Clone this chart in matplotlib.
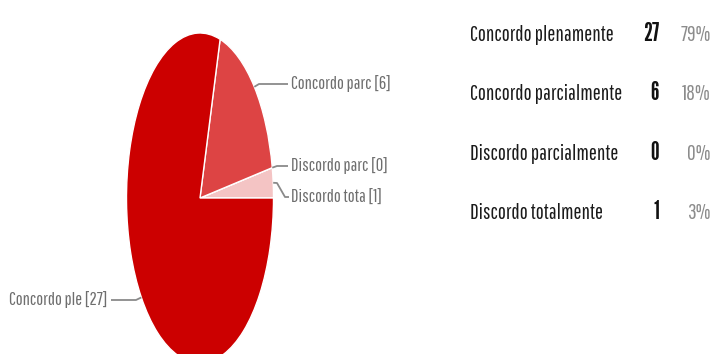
import numpy as np
import matplotlib
matplotlib.use("Agg")
import matplotlib.pyplot as plt

# Survey answers and their counts
categories = ["Concordo plenamente", "Concordo parcialmente", "Discordo parcialmente", "Discordo totalmente"]
short_labels = ["Concordo ple", "Concordo parc", "Discordo parc", "Discordo tota"]
counts = [27, 6, 0, 1]
colors = ["#cc0000", "#dd4444", "#e98a8a", "#f4c4c4"]

W, H = 712, 354
REG = ["Pathway Gothic One", "Liberation Sans"]
BOLD = ["League Gothic", "Liberation Sans"]

fig = plt.figure(figsize=(W / 100, H / 100), dpi=100)

# Pie axes: an elongated ellipse centred at (200, 198) px
cx, cy, rx, ry = 200, 198, 73.5, 165
ax = fig.add_axes([(cx - rx) / W, 1 - (cy + ry) / H, 2 * rx / W, 2 * ry / H])

# slices run counter-clockwise from 3 o'clock, last category first
order = list(range(len(counts)))[::-1]
wedges, _ = ax.pie([counts[i] for i in order], colors=[colors[i] for i in order],
                   startangle=0, counterclock=True, radius=1,
                   wedgeprops=dict(edgecolor="white", linewidth=1.0))
ax.set_aspect("auto")
ax.set_xlim(-1, 1)
ax.set_ylim(-1, 1)
ax.axis("off")


def to_data(px, py):
    return (px - cx) / rx, (cy - py) / ry


# label text anchor (px) and leader elbow points (px) per category
label_pos = {0: (108, 300, "right"), 1: (291, 84, "left"), 2: (291, 166, "left"), 3: (291, 198, "left")}
elbows = {0: [(136, 300), (111, 300)], 1: [(259, 84), (288, 84)], 2: [(277, 166), (288, 166)],
          3: [(277, 183), (285, 197), (289, 197)]}

for w, i in zip(wedges, order):
    mid = np.deg2rad((w.theta1 + w.theta2) / 2)
    pts = [(np.cos(mid), np.sin(mid))] + [to_data(*p) for p in elbows[i]]
    xs, ys = zip(*pts)
    ax.plot(xs, ys, color="#8a8a8a", lw=1.3, clip_on=False, solid_capstyle="butt")
    tx, ty, ha = label_pos[i]
    ax.text(*to_data(tx, ty), f"{short_labels[i]} [{counts[i]}]", ha=ha, va="center",
            family=REG, fontsize=13.2, color="#6e6e6e", clip_on=False)

# Summary table on the right
total = sum(counts)
row_base = [41, 100.5, 159.5, 219]
for cat, n, yb in zip(categories, counts, row_base):
    fy = 1 - yb / H
    fig.text(470 / W, fy, cat, ha="left", va="baseline", family=REG, fontsize=15.3, color="#1a1a1a")
    fig.text(659 / W, fy, str(n), ha="right", va="baseline", family=BOLD, fontsize=17.5, color="#111111")
    fig.text(711 / W, fy, f"{round(100 * n / total)}%", ha="right", va="baseline", family=REG,
             fontsize=15.3, color="#8c8c8c")

fig.savefig("out.png", dpi=100, facecolor="white")
